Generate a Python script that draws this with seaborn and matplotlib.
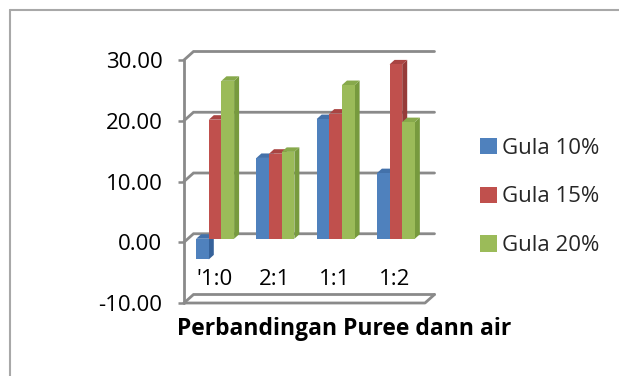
import matplotlib
matplotlib.use("Agg")
import matplotlib.pyplot as plt
import seaborn as sns
import pandas as pd
from matplotlib.patches import Polygon, Patch
from matplotlib.lines import Line2D
from matplotlib.colors import to_rgb

# Data
ratios = ["'1:0", "2:1", "1:1", "1:2"]
gula_10 = [-3.4, 13.3, 19.7, 10.8]
gula_15 = [19.6, 14.0, 20.6, 28.7]
gula_20 = [26.0, 14.3, 25.3, 19.2]
series_names = ["Gula 10%", "Gula 15%", "Gula 20%"]
yticks = [-10, 0, 10, 20, 30]
x_title = "Perbandingan Puree dann air"

# Styling
colors = ["#4F81BD", "#C0504D", "#9BBB59"]
side_colors = ["#36629A", "#963B39", "#779A3E"]
top_colors = ["#4371AA", "#A94442", "#87A94B"]
grid_c = "#8A8A8A"

df = pd.DataFrame({
    "Perbandingan": ratios * 3,
    "Nilai": gula_10 + gula_15 + gula_20,
    "Gula": [s for s in series_names for _ in ratios],
})

sns.set_style("white")
plt.rcParams["font.family"] = ["Open Sans", "DejaVu Sans"]

W, H = 619, 376
fig = plt.figure(figsize=(W / 100, H / 100), dpi=100)
ax_l, ax_r, ax_t, ax_b = 184, 425, 60, 303
ax = fig.add_axes([ax_l / W, 1 - ax_b / H, (ax_r - ax_l) / W, (ax_b - ax_t) / H])

sns.barplot(data=df, x="Perbandingan", y="Nilai", hue="Gula", palette=colors,
            saturation=1, width=0.63, errorbar=None, legend=False, ax=ax)

xmin, xmax = -0.5, 3.5
ymin, ymax = yticks[0], yticks[-1]
ax.set_xlim(xmin, xmax)
ax.set_ylim(ymin, ymax)
ux = (xmax - xmin) / (ax_r - ax_l)   # data units per pixel
uy = (ymax - ymin) / (ax_b - ax_t)

# Back wall gridlines with left-wall diagonals
wx, wy = 9.5 * ux, 8.5 * uy
for v in yticks:
    ax.plot([xmin, xmin + wx, xmax + wx], [v, v + wy, v + wy], color=grid_c,
            lw=2.0, clip_on=False, zorder=1, solid_joinstyle="miter")
# Floor front edge and front vertical edge
ax.plot([xmin, xmax, xmax + wx], [ymin, ymin, ymin + wy], color=grid_c,
        lw=2.0, clip_on=False, zorder=1)
ax.plot([xmin, xmin], [ymin, ymax], color=grid_c, lw=2.0, clip_on=False, zorder=1)

# Pseudo-3D bars: front face from seaborn, plus side and top faces
bars = sorted(ax.patches, key=lambda p: p.get_x())
bx, by = 1.0 * ux, 3.5 * uy
dx, dy = 5.0 * ux, 4.5 * uy
for i, p in enumerate(bars):
    rgb = p.get_facecolor()[:3]
    k = min(range(3), key=lambda j: sum((a - b) ** 2 for a, b in zip(rgb, to_rgb(colors[j]))))
    x0 = p.get_x() + bx
    w = p.get_width()
    h = p.get_height()
    y0 = p.get_y() + by
    p.set_x(x0)
    p.set_y(y0)
    p.set_edgecolor("none")
    p.set_clip_on(False)
    z = 3 + 2 * i
    p.set_zorder(z + 1)
    top = y0 + max(h, 0)
    bot = y0 + min(h, 0)
    x1 = x0 + w
    ax.add_patch(Polygon([(x1, bot), (x1, top), (x1 + dx, top + dy), (x1 + dx, bot + dy)],
                         closed=True, facecolor=side_colors[k], edgecolor="none",
                         zorder=z, clip_on=False))
    ax.add_patch(Polygon([(x0, top), (x1, top), (x1 + dx, top + dy), (x0 + dx, top + dy)],
                         closed=True, facecolor=top_colors[k], edgecolor="none",
                         zorder=z, clip_on=False))

for s in ax.spines.values():
    s.set_visible(False)
ax.spines["bottom"].set_position(("data", 0))

ax.set_yticks(yticks, labels=[f"{v:.2f}" for v in yticks])
ax.tick_params(axis="y", left=True, length=4.5, width=1.8, color=grid_c,
               pad=11, labelsize=16, labelcolor="black")
ax.tick_params(axis="x", length=0, pad=19, labelsize=16, labelcolor="black")
ax.set_ylabel("")
ax.set_xlabel(x_title, fontsize=16.5, fontweight="bold", color="black")
ax.xaxis.set_label_coords((344 - ax_l) / (ax_r - ax_l), (ax_b - 317) / (ax_b - ax_t))
ax.set_facecolor("none")

# Legend
handles = [Patch(facecolor=c, edgecolor="none") for c in colors]
fig.legend(handles, series_names, loc="center left",
           bbox_to_anchor=(480 / W, 1 - 197 / H), frameon=False, fontsize=16,
           handlelength=0.75, handleheight=0.75, handletextpad=0.25,
           labelspacing=1.25, borderpad=0, borderaxespad=0)

# Chart area border
border_c = "#A8A8A8"
fig.add_artist(Line2D([10 / W, 10 / W], [0, 1 - 9.5 / H], transform=fig.transFigure,
                      color=border_c, lw=1.5))
fig.add_artist(Line2D([10 / W, 1], [1 - 9.5 / H, 1 - 9.5 / H], transform=fig.transFigure,
                      color=border_c, lw=1.5))

fig.savefig("out.png", dpi=100)
